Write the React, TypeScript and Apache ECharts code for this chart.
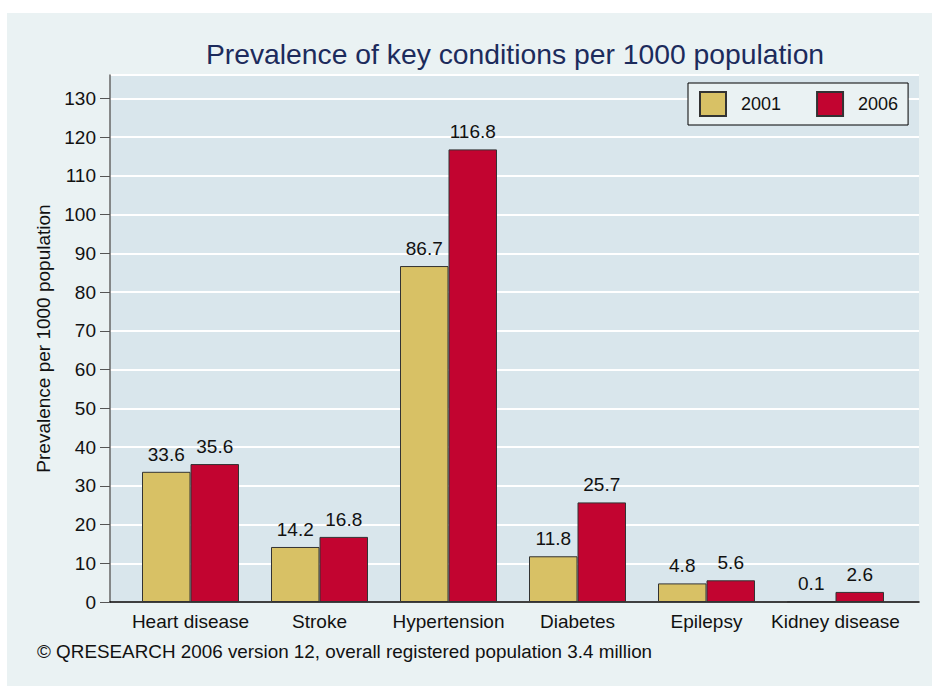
import React, { useEffect, useRef } from "react";
import * as echarts from "echarts";

const categories = ["Heart disease", "Stroke", "Hypertension", "Diabetes", "Epilepsy", "Kidney disease"];
const values2001 = [33.6, 14.2, 86.7, 11.8, 4.8, 0.1];
const values2006 = [35.6, 16.8, 116.8, 25.7, 5.6, 2.6];
const seriesNames = ["2001", "2006"];
const titleText = "Prevalence of key conditions per 1000 population";
const yAxisName = "Prevalence per 1000 population";
const footerText = "© QRESEARCH 2006 version 12, overall registered population 3.4 million";

const FONT = "'Liberation Sans', Arial, sans-serif";
const FS = 19;

export default function App() {
  const ref = useRef<HTMLDivElement>(null);
  useEffect(() => {
    if (!ref.current) return;
    const chart = echarts.init(ref.current, null, { renderer: "svg" });
    const yMax = 136;
    chart.setOption({
      animation: false,
      backgroundColor: "#EAF2F3",
      textStyle: { fontFamily: FONT },
      title: {
        text: titleText,
        left: 503,
        top: 22,
        textAlign: "center",
        textStyle: { fontFamily: FONT, fontSize: 28.3, fontWeight: "normal", color: "#1C2B5C" },
      },
      graphic: [
        {
          type: "text",
          left: 30,
          top: 629,
          style: { text: footerText, font: `18.85px ${FONT}`, fill: "#111" },
        },
      ],
      legend: {
        data: seriesNames,
        left: 681,
        top: 70,
        orient: "horizontal",
        itemWidth: 26,
        itemHeight: 24,
        itemGap: 35,
        padding: [8, 10, 8, 11],
        backgroundColor: "#EAF2F3",
        borderColor: "#000",
        borderWidth: 1,
        icon: "rect",
        textStyle: { fontFamily: FONT, fontSize: 18, color: "#111", padding: [0, 0, 0, 10] },
      },
      grid: [
        { left: 103, top: 62, width: 809, height: 527, show: true, backgroundColor: "#D9E6EC", borderWidth: 0 },
        { left: 119, top: 62, width: 774, height: 527 },
      ],
      xAxis: [
        {
          gridIndex: 0,
          type: "value",
          min: 0,
          max: 1,
          axisLine: { show: true, onZero: false, lineStyle: { color: "#000", width: 1.5 } },
          axisTick: { show: false },
          axisLabel: { show: false },
          splitLine: { show: false },
        },
        {
          gridIndex: 1,
          type: "category",
          data: categories,
          axisLine: { show: false },
          axisTick: { show: false },
          axisLabel: { interval: 0, margin: 10, fontSize: FS, color: "#111", fontFamily: FONT },
        },
      ],
      yAxis: [
        {
          gridIndex: 0,
          type: "value",
          min: 0,
          max: yMax,
          interval: 10,
          name: yAxisName,
          nameLocation: "middle",
          nameGap: 57,
          nameRotate: 90,
          nameTextStyle: { fontFamily: FONT, fontSize: FS, color: "#111" },
          axisLine: { show: true, lineStyle: { color: "#666", width: 1.5 } },
          axisTick: { show: true, length: 10, lineStyle: { color: "#555", width: 1 } },
          axisLabel: {
            margin: 14,
            fontSize: FS,
            color: "#111",
            fontFamily: FONT,
            showMaxLabel: false,
            formatter: (v: number) => (v % 10 === 0 ? String(v) : ""),
          },
          splitLine: { show: true, lineStyle: { color: "#FFFFFF", width: 2 } },
        },
        {
          gridIndex: 1,
          type: "value",
          min: 0,
          max: yMax,
          show: false,
          splitLine: { show: false },
        },
      ],
      series: [
        {
          name: seriesNames[0],
          type: "bar",
          xAxisIndex: 1,
          yAxisIndex: 1,
          data: values2001,
          barWidth: 48.5,
          barGap: "0%",
          itemStyle: { color: "#D8C165", borderColor: "#333", borderWidth: 1 },
          label: { show: true, position: "top", distance: 8, fontSize: FS, color: "#111", fontFamily: FONT },
        },
        {
          name: seriesNames[1],
          type: "bar",
          xAxisIndex: 1,
          yAxisIndex: 1,
          data: values2006,
          barWidth: 48.5,
          barGap: "0%",
          itemStyle: { color: "#C20430", borderColor: "#333", borderWidth: 1 },
          label: { show: true, position: "top", distance: 8, fontSize: FS, color: "#111", fontFamily: FONT },
        },
      ],
    });
    return () => chart.dispose();
  }, []);

  return (
    <div style={{ position: "absolute", left: 0, top: 0, width: 932, height: 686, background: "#fff", overflow: "hidden" }}>
      <div ref={ref} style={{ position: "absolute", left: 7, top: 13, width: 925, height: 673 }} />
    </div>
  );
}
